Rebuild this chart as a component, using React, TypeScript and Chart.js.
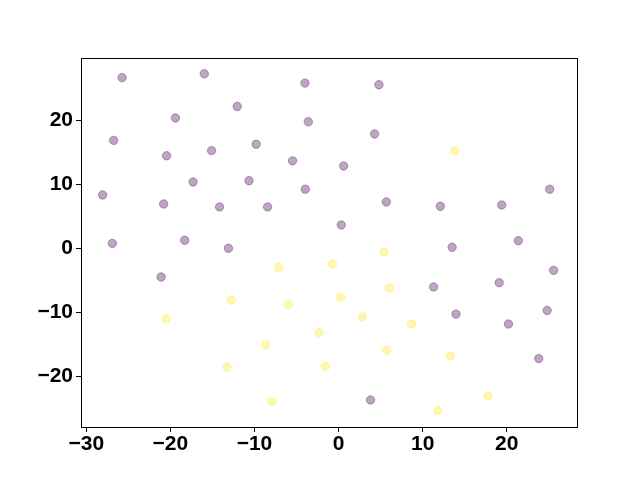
import React, { useEffect, useRef } from "react";
import { Chart, registerables } from "chart.js";

Chart.register(...registerables);

const purpleX = [-25.75, -15.97, -4.0, 4.8, -12.05, -19.4, -3.6, 4.28, -26.75, -9.8, -15.1, -20.45, -5.47, 0.6, -17.3, -10.65, 25.1, -3.96, -28.06, 5.67, -20.8, -14.15, -8.44, 12.1, 19.4, 0.32, -26.9, -18.3, -13.1, 13.5, 21.37, 25.57, -21.1, 19.1, 11.3, 24.8, 13.96, 20.2, 23.8, 3.8];
const purpleY = [26.7, 27.3, 25.85, 25.6, 22.2, 20.4, 19.8, 17.9, 16.9, 16.3, 15.3, 14.5, 13.7, 12.9, 10.4, 10.6, 9.26, 9.26, 8.37, 7.28, 6.96, 6.5, 6.5, 6.6, 6.8, 3.68, 0.8, 1.28, 0.03, 0.19, 1.22, -3.41, -4.46, -5.35, -6.0, -9.68, -10.25, -11.8, -17.2, -23.66];

const yellowX = [13.8, -7.13, -0.71, 5.43, -12.76, -5.95, 0.24, 6.03, -20.5, 2.82, 8.68, -2.3, -8.68, 5.71, 13.3, -13.27, -1.55, -7.92, 17.76, 11.82];
const yellowY = [15.3, -2.94, -2.43, -0.55, -8.1, -8.8, -7.64, -6.18, -10.98, -10.7, -11.8, -13.15, -15.05, -15.9, -16.8, -18.55, -18.4, -23.9, -23.1, -25.3];

const xTicks = [-30, -20, -10, 0, 10, 20];
const yTicks = [-20, -10, 0, 10, 20];

const fmt = (v: number | string) => String(v).replace("-", "\u2212");

const frame = {
  id: "frame",
  afterDraw(chart: any) {
    const { ctx, chartArea } = chart;
    ctx.save();
    ctx.strokeStyle = "#000";
    ctx.lineWidth = 1;
    ctx.strokeRect(
      Math.round(chartArea.left) + 0.5,
      Math.round(chartArea.top) + 0.5,
      Math.round(chartArea.right - chartArea.left),
      Math.round(chartArea.bottom - chartArea.top)
    );
    ctx.restore();
  },
};

export default function App() {
  const ref = useRef<HTMLCanvasElement>(null);
  useEffect(() => {
    const purple = purpleX.map((x, i) => ({ x, y: purpleY[i] }));
    const yellow = yellowX.map((x, i) => ({ x, y: yellowY[i] }));
    const tickFont = { family: "'Liberation Sans', Arial, sans-serif", size: 21, weight: "bold" as const };
    const chart = new Chart(ref.current!, {
      type: "scatter",
      data: {
        datasets: [
          {
            data: purple,
            backgroundColor: "rgba(68,1,84,0.35)",
            borderColor: "rgba(68,1,84,0.35)",
            borderWidth: 1,
            pointRadius: 4.2,
          },
          {
            data: yellow,
            backgroundColor: "rgba(253,231,37,0.35)",
            borderColor: "rgba(253,231,37,0.35)",
            borderWidth: 1,
            pointRadius: 4.2,
          },
        ],
      },
      plugins: [frame],
      options: {
        animation: false,
        responsive: false,
        maintainAspectRatio: false,
        layout: { padding: { left: 0, top: 58, right: 63, bottom: 0 } },
        plugins: { legend: { display: false }, tooltip: { enabled: false } },
        scales: {
          x: {
            type: "linear",
            min: -30.63,
            max: 28.35,
            afterBuildTicks: (s: any) => {
              s.ticks = xTicks.map((v) => ({ value: v }));
            },
            afterFit: (s: any) => {
              s.height = 53;
            },
            grid: { display: true, drawOnChartArea: false, drawTicks: true, tickLength: 5, color: "#000" },
            border: { display: true, color: "#000" },
            ticks: { color: "#000", font: tickFont, padding: 0, maxRotation: 0, callback: (v: any) => fmt(v) },
          },
          y: {
            type: "linear",
            min: -27.89,
            max: 29.77,
            afterBuildTicks: (s: any) => {
              s.ticks = yTicks.map((v) => ({ value: v }));
            },
            afterFit: (s: any) => {
              s.width = 81;
            },
            grid: { display: true, drawOnChartArea: false, drawTicks: true, tickLength: 5, color: "#000" },
            border: { display: true, color: "#000" },
            ticks: { color: "#000", font: tickFont, padding: 3, callback: (v: any) => fmt(v) },
          },
        },
      },
    });
    return () => chart.destroy();
  }, []);
  return (
    <div style={{ position: "fixed", left: 0, top: 0, width: 640, height: 480, background: "#fff" }}>
      <canvas ref={ref} width={640} height={480} style={{ width: 640, height: 480 }} />
    </div>
  );
}
